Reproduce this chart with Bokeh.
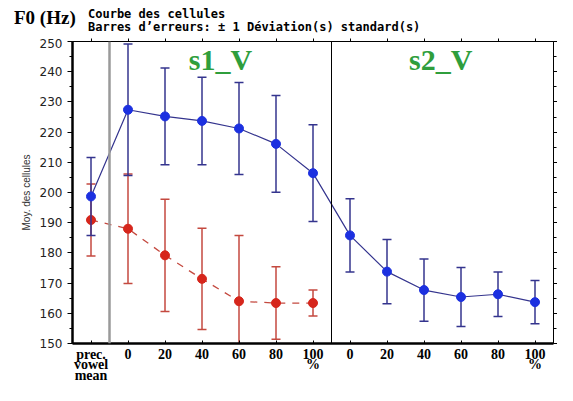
from bokeh.plotting import figure
from bokeh.layouts import column
from bokeh.models import LinearAxis, FixedTicker, Span, Label, Range1d, Div, CustomJSTickFormatter
from bokeh.embed import file_html
from bokeh.resources import INLINE

# ---- data ----
positions = list(range(13))
tick_labels = ["prec.\nvowel\nmean", "0", "20", "40", "60", "80", "100\n%",
               "0", "20", "40", "60", "80", "100\n%"]
blue_mean = [198.7, 227.4, 225.2, 223.7, 221.2, 216.1, 206.4,
             185.8, 173.8, 167.7, 165.4, 166.3, 163.7]
blue_sd = [12.9, 21.8, 16.0, 14.5, 15.2, 16.0, 16.0,
           12.1, 10.6, 10.3, 9.8, 7.4, 7.2]
red_pos = list(range(7))
red_mean = [190.9, 188.0, 179.2, 171.4, 164.0, 163.4, 163.4]
red_sd = [11.9, 18.1, 18.6, 16.8, 21.8, 12.0, 4.3]
y_ticks = list(range(150, 251, 10))
y_minor = list(range(155, 251, 10))
section_labels = ["s1_V", "s2_V"]
section_centers = [3.5, 9.45]
unit_text = "F0 (Hz)"
header_lines = ["Courbe des cellules",
                "Barres d\u2019erreurs: \u00b1 1 D\u00e9viation(s) standard(s)"]

blue_lo = [m - s for m, s in zip(blue_mean, blue_sd)]
blue_hi = [m + s for m, s in zip(blue_mean, blue_sd)]
red_lo = [m - s for m, s in zip(red_mean, red_sd)]
red_hi = [m + s for m, s in zip(red_mean, red_sd)]

BLUE_BAR = "#34348e"
BLUE_PT = "#1c30e0"
RED_BAR = "#c4493f"
RED_PT = "#d6261c"
GREEN = "#2f9e3c"

W = 557
HEAD_H = 38

head_html = (
    '<div style="position:relative;width:%dpx;height:%dpx;margin:0;padding:0;">'
    '<span style="position:absolute;left:14px;top:7px;font-family:\'Liberation Serif\';'
    'font-weight:bold;font-size:19px;line-height:22px;white-space:nowrap;color:black;">%s</span>'
    '<span style="position:absolute;left:88px;top:8px;font-family:\'DejaVu Sans Mono\';'
    'font-weight:bold;font-size:12px;line-height:13px;white-space:nowrap;color:black;">%s<br>%s</span>'
    '</div>' % (W, HEAD_H, unit_text, header_lines[0], header_lines[1])
)
head = Div(text=head_html, width=W, height=HEAD_H, margin=(0, 0, 0, 0))

p = figure(width=W, height=385 - HEAD_H, x_range=Range1d(-0.5, 12.5), y_range=Range1d(150, 250),
           output_backend="svg", toolbar_location=None, margin=(0, 0, 0, 0),
           min_border_left=72, min_border_top=3, min_border_right=4, min_border_bottom=30)
p.xgrid.visible = False
p.ygrid.visible = False
p.background_fill_color = "white"
p.border_fill_color = "white"
p.outline_line_color = "black"
p.outline_line_width = 1

# left axis
ya = p.yaxis[0]
ya.ticker = FixedTicker(ticks=y_ticks, minor_ticks=y_minor)
ya.major_label_text_font = "DejaVu Sans"
ya.major_label_text_font_size = "12px"
ya.major_label_text_color = "#222222"
ya.major_label_standoff = 5
ya.major_tick_out = 5
ya.major_tick_in = 0
ya.minor_tick_out = 3
ya.minor_tick_in = 0
ya.axis_line_width = 2.5
ya.axis_label = "Moy. des cellules"
ya.axis_label_text_font = "Liberation Sans"
ya.axis_label_text_font_size = "10px"
ya.axis_label_text_font_style = "normal"
ya.axis_label_text_color = "#333333"
ya.axis_label_standoff = 5

# bottom axis
xa = p.xaxis[0]
xa.ticker = FixedTicker(ticks=positions, minor_ticks=[])
xa.major_label_overrides = {i: t for i, t in zip(positions, tick_labels)}
xa.major_label_text_font = "Liberation Serif"
xa.major_label_text_font_style = "bold"
xa.major_label_text_font_size = "14px"
xa.major_label_text_line_height = 0.7
xa.major_label_text_color = "black"
xa.major_label_standoff = 3
xa.major_tick_in = 3
xa.major_tick_out = 0
xa.axis_line_width = 2.5

empty = CustomJSTickFormatter(code="return ''")

# right axis (ticks only)
ra = LinearAxis(ticker=FixedTicker(ticks=y_ticks, minor_ticks=y_minor), formatter=empty,
                major_label_standoff=0,
                major_tick_out=4, major_tick_in=0, minor_tick_out=3, minor_tick_in=0)
p.add_layout(ra, "right")

# top axis (ticks only)
ta = LinearAxis(ticker=FixedTicker(ticks=positions, minor_ticks=[]), formatter=empty,
                major_label_standoff=0, major_tick_out=3, major_tick_in=0)
p.add_layout(ta, "above")

# separators
p.add_layout(Span(location=0.5, dimension="height", line_color="#9a9a9a", line_width=2.5))
p.add_layout(Span(location=6.5, dimension="height", line_color="black", line_width=1))

# red series
p.segment(x0=red_pos, y0=red_lo, x1=red_pos, y1=red_hi, line_color=RED_BAR, line_width=1.5)
p.scatter(red_pos, red_hi, marker="dash", size=9, line_color=RED_BAR, line_width=1.5)
p.scatter(red_pos, red_lo, marker="dash", size=9, line_color=RED_BAR, line_width=1.5)
p.line(red_pos, red_mean, line_color=RED_BAR, line_width=1.3, line_dash="7 7")
p.scatter(red_pos, red_mean, marker="circle", size=9, fill_color=RED_PT, line_color=RED_PT)

# blue series
p.segment(x0=positions, y0=blue_lo, x1=positions, y1=blue_hi, line_color=BLUE_BAR, line_width=1.5)
p.scatter(positions, blue_hi, marker="dash", size=9, line_color=BLUE_BAR, line_width=1.5)
p.scatter(positions, blue_lo, marker="dash", size=9, line_color=BLUE_BAR, line_width=1.5)
p.line(positions, blue_mean, line_color=BLUE_BAR, line_width=1.2)
p.scatter(positions, blue_mean, marker="circle", size=9, fill_color=BLUE_PT, line_color=BLUE_PT)

# section labels
for cx, t in zip(section_centers, section_labels):
    p.add_layout(Label(x=cx, y=244, text=t, text_align="center", text_baseline="middle",
                       text_font="Liberation Serif", text_font_style="bold",
                       text_font_size="30px", text_color=GREEN))

layout = column(head, p, spacing=0)
open("out.html", "w").write(file_html(layout, INLINE))
